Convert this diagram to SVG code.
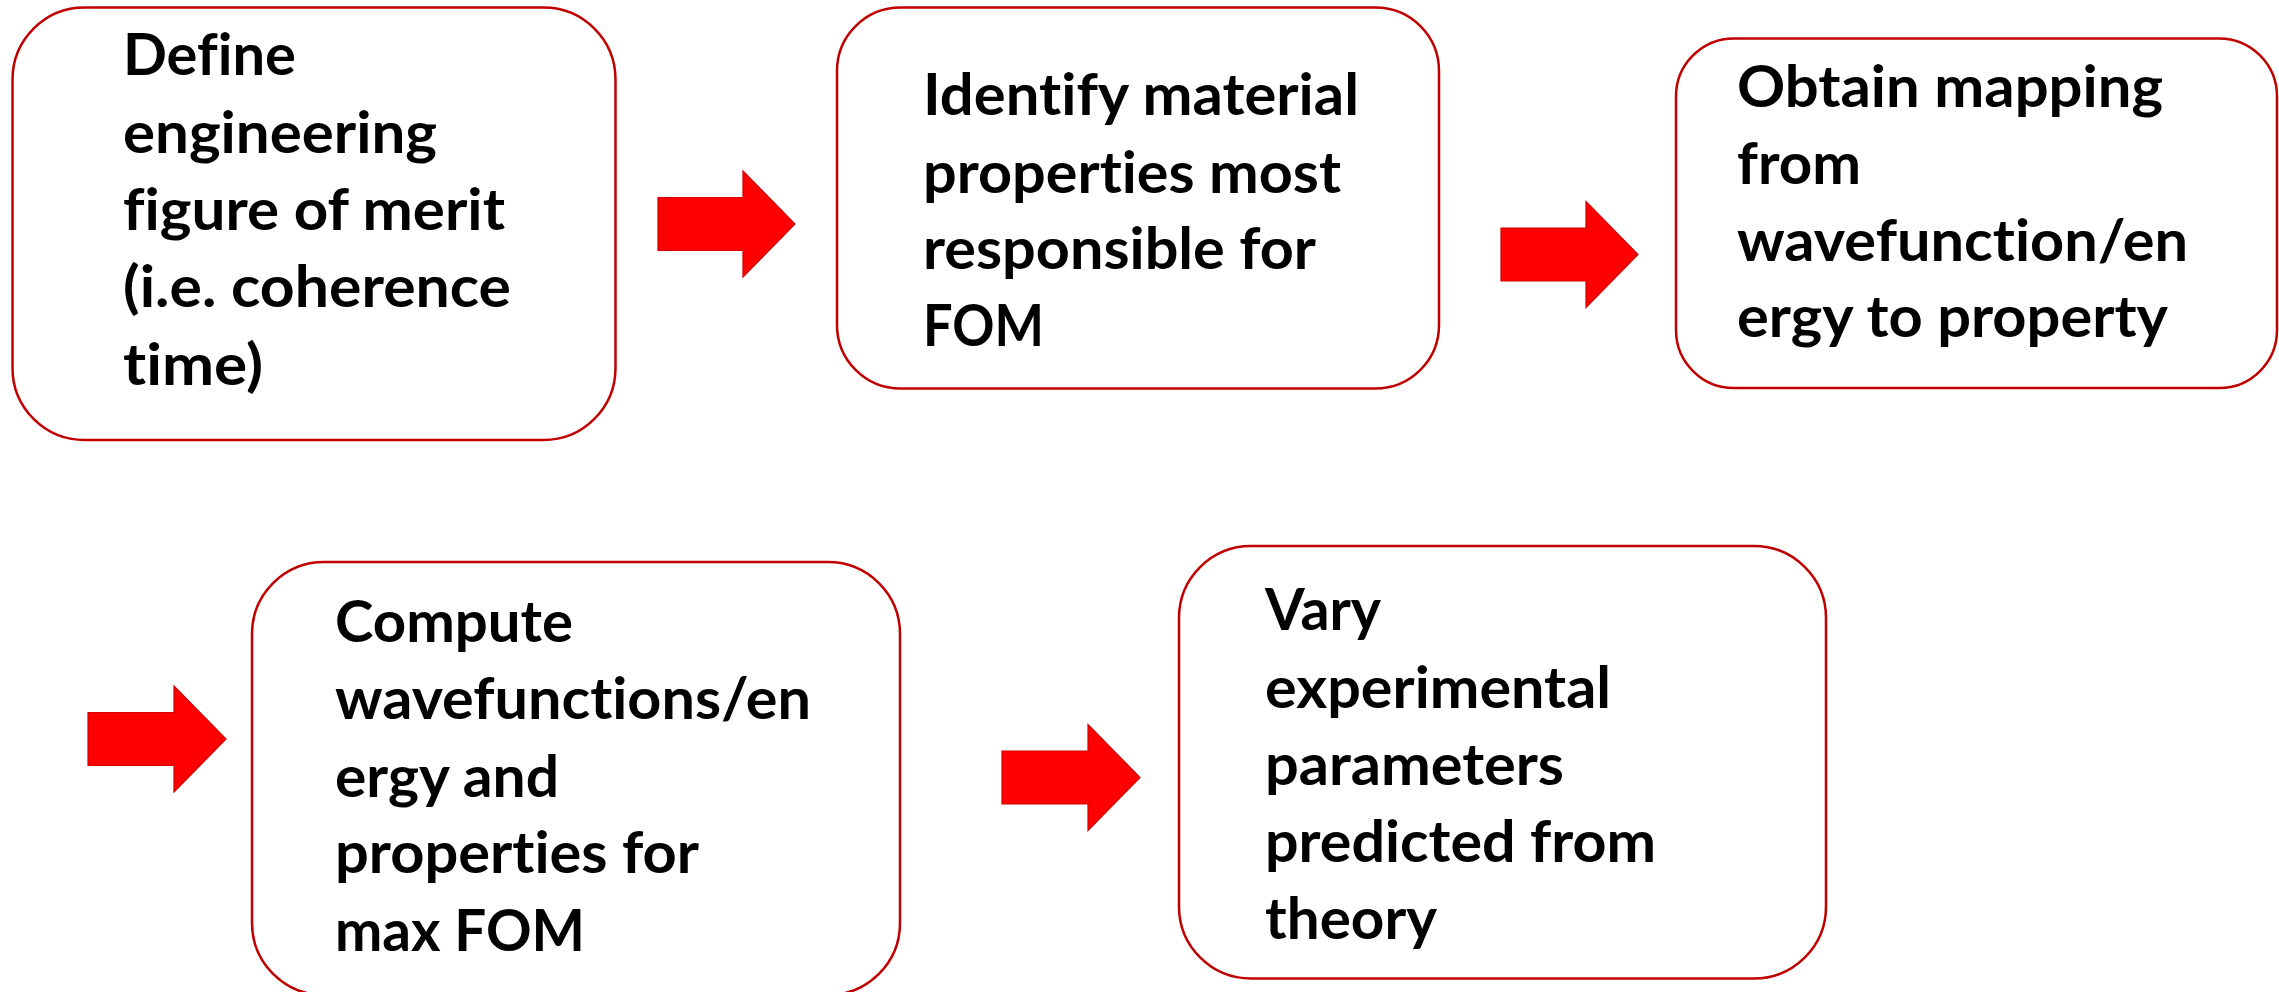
<svg xmlns="http://www.w3.org/2000/svg" width="2279" height="992" viewBox="0 0 2279 992">
<style>
.box{fill:#ffffff;stroke:#c00000;stroke-width:2.5}
.arrow{fill:#ff0000;stroke:#d40000;stroke-width:1.2;stroke-linejoin:miter}
.t{font-family:Lato,"Open Sans","Liberation Sans",sans-serif;font-weight:bold;font-size:58px;fill:#000000;font-variant-ligatures:none;font-feature-settings:"liga" 0,"dlig" 0}
</style>
<rect width="2279" height="992" fill="#ffffff"/>
<g id="connectors">
<polygon class="arrow" points="658,197.5 743,197.5 743,171 795,224 743,277 743,250.5 658,250.5"/>
<polygon class="arrow" points="1501,228 1586,228 1586,201.5 1638,254.5 1586,307.5 1586,281 1501,281"/>
<polygon class="arrow" points="88,712.5 174,712.5 174,686 226,739 174,792 174,765.5 88,765.5"/>
<polygon class="arrow" points="1002,751 1088,751 1088,724.5 1140,777.5 1088,830.5 1088,804 1002,804"/>
</g>
<g id="node1">
<rect class="box" x="12.5" y="7.5" width="603" height="432.5" rx="72" ry="72"/>
<text class="t" x="123" y="75" textLength="173" lengthAdjust="spacingAndGlyphs">Define</text>
<text class="t" x="123" y="153" textLength="314" lengthAdjust="spacingAndGlyphs">engineering</text>
<text class="t" x="123" y="230" textLength="382" lengthAdjust="spacingAndGlyphs">figure of merit</text>
<text class="t" x="123" y="307" textLength="388" lengthAdjust="spacingAndGlyphs">(i.e. coherence</text>
<text class="t" x="123" y="385" textLength="140" lengthAdjust="spacingAndGlyphs">time)</text>
</g>
<g id="node2">
<rect class="box" x="837" y="7.5" width="602" height="381" rx="63.5" ry="63.5"/>
<text class="t" x="923" y="115" textLength="436" lengthAdjust="spacingAndGlyphs">Identify material</text>
<text class="t" x="923" y="193" textLength="418" lengthAdjust="spacingAndGlyphs">properties most</text>
<text class="t" x="923" y="269" textLength="393" lengthAdjust="spacingAndGlyphs">responsible for</text>
<text class="t" x="923" y="346" textLength="121" lengthAdjust="spacingAndGlyphs">FOM</text>
</g>
<g id="node3">
<rect class="box" x="1676" y="38.5" width="601" height="349.5" rx="58" ry="58"/>
<text class="t" x="1737" y="107" textLength="426" lengthAdjust="spacingAndGlyphs">Obtain mapping</text>
<text class="t" x="1737" y="184" textLength="124" lengthAdjust="spacingAndGlyphs">from</text>
<text class="t" x="1737" y="261" textLength="451" lengthAdjust="spacingAndGlyphs">wavefunction/en</text>
<text class="t" x="1737" y="337" textLength="431" lengthAdjust="spacingAndGlyphs">ergy to property</text>
</g>
<g id="node4">
<rect class="box" x="252" y="562" width="648" height="433" rx="72" ry="72"/>
<text class="t" x="335" y="642" textLength="238" lengthAdjust="spacingAndGlyphs">Compute</text>
<text class="t" x="335" y="719" textLength="476" lengthAdjust="spacingAndGlyphs">wavefunctions/en</text>
<text class="t" x="335" y="797" textLength="224" lengthAdjust="spacingAndGlyphs">ergy and</text>
<text class="t" x="335" y="873" textLength="364" lengthAdjust="spacingAndGlyphs">properties for</text>
<text class="t" x="335" y="951" textLength="250" lengthAdjust="spacingAndGlyphs">max FOM</text>
</g>
<g id="node5">
<rect class="box" x="1179" y="546" width="647" height="432.5" rx="72" ry="72"/>
<text class="t" x="1265" y="630" textLength="116" lengthAdjust="spacingAndGlyphs">Vary</text>
<text class="t" x="1265" y="708" textLength="346" lengthAdjust="spacingAndGlyphs">experimental</text>
<text class="t" x="1265" y="785" textLength="299" lengthAdjust="spacingAndGlyphs">parameters</text>
<text class="t" x="1265" y="862" textLength="391" lengthAdjust="spacingAndGlyphs">predicted from</text>
<text class="t" x="1265" y="939" textLength="172" lengthAdjust="spacingAndGlyphs">theory</text>
</g>
</svg>
